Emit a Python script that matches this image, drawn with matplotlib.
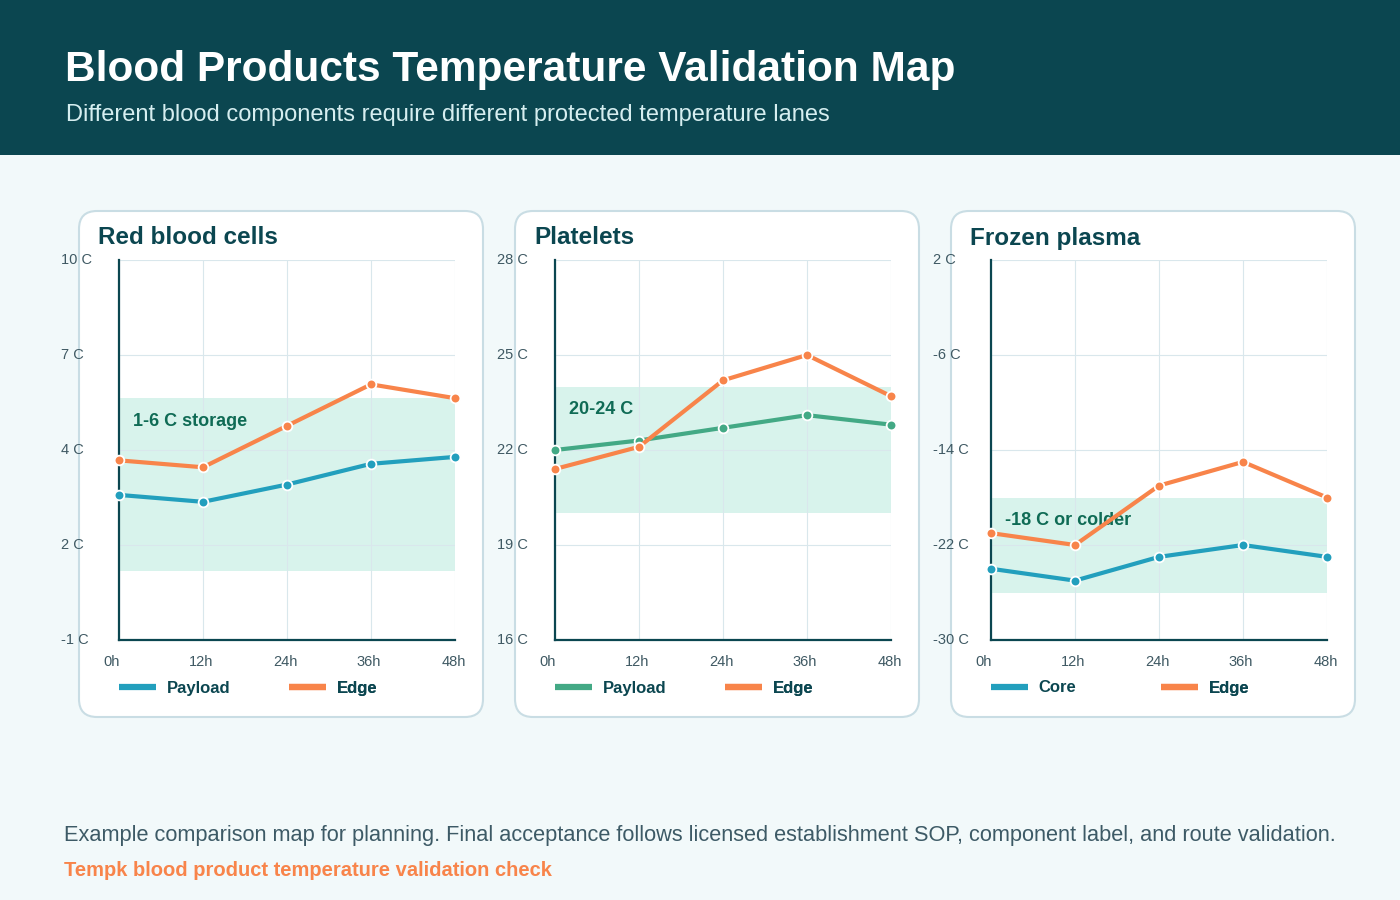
import numpy as np
import matplotlib
matplotlib.use("Agg")
import matplotlib.pyplot as plt
from matplotlib.patches import FancyBboxPatch, Rectangle
from matplotlib.transforms import IdentityTransform, ScaledTranslation
from matplotlib.lines import Line2D

plt.rcParams['font.family'] = ['Liberation Sans', 'DejaVu Sans']

# data
hours = [0, 12, 24, 36, 48]
hour_labels = ['0h', '12h', '24h', '36h', '48h']

panel_titles = ['Red blood cells', 'Platelets', 'Frozen plasma']
series_names = [('Payload', 'Edge'), ('Payload', 'Edge'), ('Core', 'Edge')]

rbc_payload = [3.2, 3.0, 3.5, 4.1, 4.3]
rbc_edge = [4.2, 4.0, 5.2, 6.4, 6.0]
plt_payload = [22.0, 22.3, 22.7, 23.1, 22.8]
plt_edge = [21.4, 22.1, 24.2, 25.0, 23.7]
ffp_core = [-24.0, -25.0, -23.0, -22.0, -23.0]
ffp_edge = [-21.0, -22.0, -17.0, -15.0, -18.0]

y_ranges = [(-1, 10), (16, 28), (-30, 2)]
y_tick_labels = [['-1 C', '2 C', '4 C', '7 C', '10 C'],
                 ['16 C', '19 C', '22 C', '25 C', '28 C'],
                 ['-30 C', '-22 C', '-14 C', '-6 C', '2 C']]
bands = [(1, 6), (20, 24), (-26, -18)]
band_labels = ['1-6 C storage', '20-24 C', '-18 C or colder']

series_a = [rbc_payload, plt_payload, ffp_core]
series_b = [rbc_edge, plt_edge, ffp_edge]

# colours
dark = '#0b4650'
bg = '#f2f9fa'
blue = '#229fbd'
green = '#43a985'
orange = '#f8844a'
band_col = '#d8f3ec'
grid_col = '#d9e7ec'
a_colors = [blue, green, blue]

W, H = 1400, 900
fig = plt.figure(figsize=(W / 100, H / 100), dpi=100)
fig.patch.set_facecolor(bg)

def fy(y):
    return H - y

# header band
fig.patches.append(Rectangle((0, fy(155)), W, 155, transform=IdentityTransform(),
                             facecolor=dark, edgecolor='none', zorder=-2))
fig.text(65 / W, fy(70) / H, 'Blood Products Temperature Validation Map',
         color='white', fontsize=30.5, fontweight='bold', va='center', ha='left')
fig.text(66 / W, fy(115) / H, 'Different blood components require different protected temperature lanes',
         color='#d6eef0', fontsize=17, va='center', ha='left')

x_shift = [-7, -2, -2, -2, -1]  # pixel nudges of the hour labels

for i in range(3):
    dx = 436 * i
    # panel card
    fig.patches.append(FancyBboxPatch((79 + dx, fy(717)), 404, 506,
                                      boxstyle='round,pad=0,rounding_size=18',
                                      transform=IdentityTransform(),
                                      facecolor='white', edgecolor='#c9dde4',
                                      linewidth=1.5, zorder=-1))
    fig.text((98 + dx) / W, fy(238) / H, panel_titles[i], color=dark,
             fontsize=17.5, fontweight='bold', va='center', ha='left')

    ax = fig.add_axes([(119 + dx) / W, fy(640) / H, 336 / W, 380 / H])
    ax.set_facecolor('white')
    lo, hi = y_ranges[i]
    ax.set_xlim(0, 48)
    ax.set_ylim(lo, hi)
    yt = np.linspace(lo, hi, 5)
    ax.set_yticks(yt, y_tick_labels[i])
    ax.set_xticks(hours, hour_labels)
    ax.tick_params(axis='y', length=0, pad=42, labelsize=10.5, labelcolor='#3f5963')
    ax.tick_params(axis='x', length=0, pad=11, labelsize=10.5, labelcolor='#3f5963')
    for lab in ax.get_yticklabels():
        lab.set_ha('left')
        lab.set_va('center')
    for lab, s in zip(ax.get_xticklabels(), x_shift):
        lab.set_transform(lab.get_transform() + ScaledTranslation(s / 100, 0, fig.dpi_scale_trans))
    ax.grid(True, color=grid_col, linewidth=0.8)
    ax.set_axisbelow(True)
    for s in ['top', 'right']:
        ax.spines[s].set_visible(False)
    for s in ['left', 'bottom']:
        ax.spines[s].set_color(dark)
        ax.spines[s].set_linewidth(1.6)
        ax.spines[s].set_zorder(4)

    blo, bhi = bands[i]
    ax.axhspan(blo, bhi, color=band_col, zorder=0.2, linewidth=0)
    ax.annotate(band_labels[i], xy=(0, bhi), xytext=(14, -23), textcoords='offset pixels',
                color='#0f6b55', fontsize=13, fontweight='bold', va='center', ha='left')

    for vals, col in [(series_a[i], a_colors[i]), (series_b[i], orange)]:
        ax.plot(hours, vals, color=col, linewidth=3, marker='o', markersize=7,
                markerfacecolor=col, markeredgecolor='white', markeredgewidth=1.3,
                clip_on=False, zorder=5)

    # legends (two fixed positions)
    for j, (name, col) in enumerate([(series_names[i][0], a_colors[i]),
                                     (series_names[i][1], orange)]):
        h = Line2D([], [], color=col, linewidth=4.5, solid_capstyle='butt')
        leg = ax.legend([h], [name], loc='center left',
                        bbox_to_anchor=((170 * j) / 336, -48 / 380),
                        frameon=False, borderpad=0, borderaxespad=0,
                        handlelength=2.2, handletextpad=0.65,
                        prop={'weight': 'bold', 'size': 12})
        for t in leg.get_texts():
            t.set_color(dark)
        ax.add_artist(leg)

fig.text(64 / W, fy(836) / H,
         'Example comparison map for planning. Final acceptance follows licensed establishment SOP, component label, and route validation.',
         color='#3d5a66', fontsize=15.65, va='center', ha='left')
fig.text(64 / W, fy(870) / H, 'Tempk blood product temperature validation check',
         color=orange, fontsize=14.5, fontweight='bold', va='center', ha='left')

fig.savefig('out.png', dpi=100, facecolor=bg)
